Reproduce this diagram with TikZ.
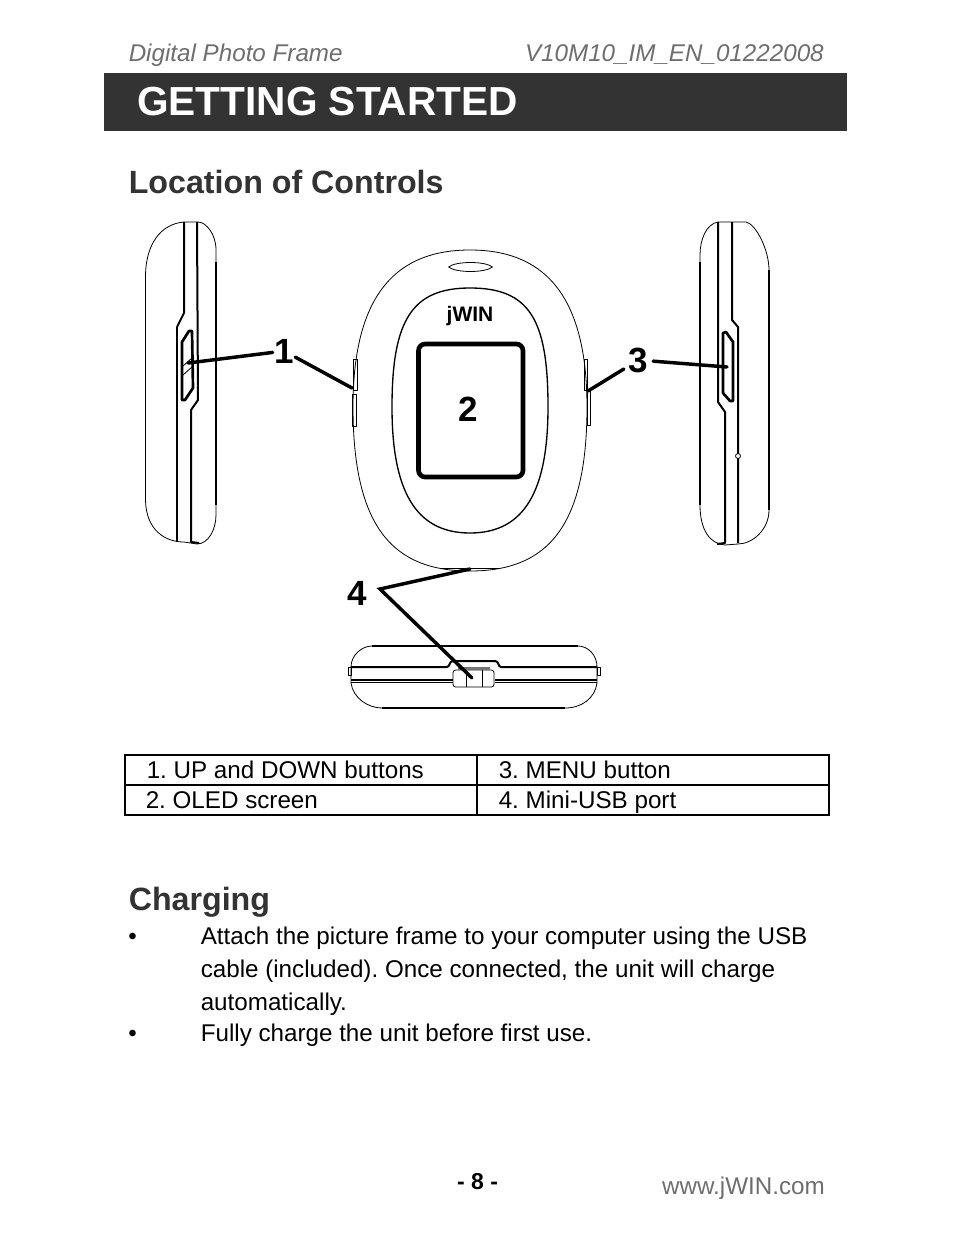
\documentclass[tikz,border=0pt]{standalone}
\usepackage{fontspec}
\setmainfont{Liberation Sans}
\newcommand{\fpx}[1]{\fontsize{\dimexpr #1pt*3/4\relax}{\dimexpr #1pt*9/10\relax}\selectfont\frenchspacing}
\definecolor{hdr}{HTML}{333333}
\definecolor{gry}{HTML}{6E6E6E}
\tikzset{
  txt/.style={anchor=base west,inner sep=0pt,font=\fpx{24.2},text=black},
  head/.style={anchor=base west,inner sep=0pt,font=\fpx{32.2}\bfseries,text=hdr},
  gtxt/.style={inner sep=0pt,font=\fpx{24.2},text=gry},
  num/.style={inner sep=1pt,font=\fpx{35}\bfseries},
  thin line/.style={draw=black,line width=0.6pt,line join=round},
  med line/.style={draw=black,line width=1.5pt,line join=round},
  heavy line/.style={draw=black,line width=2pt,line join=round},
  lead/.style={draw=black,line width=2.6pt,line cap=round,line join=miter},
  tab/.style={draw=black,line width=1.2pt}
}
\begin{document}
\begin{tikzpicture}[x=0.75pt,y=-0.75pt]
\useasboundingbox (0,0) rectangle (954,1235);
\fill[white] (0,0) rectangle (954,1235);
% header
\node[gtxt,anchor=base west,font=\fpx{24.2}\itshape] (hl) at (128.5,61) {Digital Photo Frame};
\node[gtxt,anchor=base east,font=\fpx{24.2}\itshape] (hr) at (824,61) {V10M10\_IM\_EN\_01222008};
\fill[hdr] (104,73) rectangle (847,131);
\node[anchor=base west,inner sep=0pt,text=white,font=\fpx{40.6}\bfseries] (title) at (137,115.5) {GETTING STARTED};
\node[head] (loc) at (128.5,193) {Location of Controls};
% left side view
\draw[thin line] (184,222) -- (198,222) .. controls (206,222) and (216,234) .. (216,250) -- (216,515) .. controls (216,530) and (208,544) .. (197,544) -- (184,542) .. controls (165,542) and (146,530) .. (145.5,500) -- (145.5,275) .. controls (146,245) and (160,224) .. (184,222);
\draw[med line] (216,262) -- (216,505);
\draw[med line] (184,222) -- (184,313) -- (177,327);
\draw[heavy line] (177,327) -- (177,542);
\draw[med line] (197,222) -- (198,400) -- (191,410) -- (191,542) -- (199,543);
\draw[heavy line] (182,342) -- (189,331) -- (192,331) -- (193,388) -- (185,400) -- (182,400) -- cycle;
\draw[thin line] (183,366) -- (192,358) (183,375) -- (192,367);
% right side view
\draw[thin line] (718,222) -- (732,222) -- (746,222) .. controls (756,224) and (769,250) .. (769,270) -- (769,510) .. controls (769,530) and (752,544) .. (738,544) -- (725,545) .. controls (710,544) and (700,530) .. (700,505) -- (700,255) .. controls (700,240) and (706,224) .. (718,222);
\draw[med line] (700,262) -- (700,505);
\draw[med line] (769,270) -- (769,510);
\draw[med line] (718,222) -- (718,402) -- (725,412) -- (725,543) -- (717,544);
\draw[med line] (732,222) -- (732,320) -- (738,327) -- (738,543);
\draw[heavy line] (723,333) -- (726,332) -- (733,342) -- (733,401) -- (730,401) -- (723,393) -- cycle;
\draw[thin line,fill=white] (738,456) circle[radius=2.5];
% front view
\draw[thin line] (470,250) .. controls (540,250) and (587,290) .. (587,407) .. controls (587,530) and (545,571) .. (470,571) .. controls (395,571) and (353,530) .. (353,407) .. controls (353,290) and (400,250) .. (470,250) -- cycle;
\draw[thin line] (353.5,359) rectangle (357.5,390);
\draw[thin line] (352,394) rectangle (356,426);
\draw[thin line] (584,359) rectangle (587,390);
\draw[thin line] (587,390) rectangle (590,425);
\draw[thin line] (440,568) -- (500,568);
\draw[draw=black,line width=1pt] (470,288) .. controls (530,288) and (548,320) .. (548,407) .. controls (548,490) and (525,533) .. (470,533) .. controls (415,533) and (392,490) .. (392,407) .. controls (392,320) and (412,288) .. (470,288) -- cycle;
\draw[thin line] (448.5,267) .. controls (456,261) and (485,261) .. (492.5,267) .. controls (485,273) and (456,273) .. (448.5,267) -- cycle;
\node[inner sep=0pt,font=\fpx{21}\bfseries] (jwin) at (470,316.5) {jWIN};
\draw[line width=3.5pt,rounded corners=5pt] (418.5,344) rectangle (523,477);
\node[num] (n2) at (468.5,409) {2};
% bottom view
\draw[thin line] (351,667) .. controls (351,655) and (362,646) .. (372,646) -- (578,646) .. controls (588,646) and (597,655) .. (597,667);
\draw[med line] (372,646) -- (578,646);
\draw[thin line] (351,667) -- (351,683) .. controls (353,698) and (368,708) .. (382,708) -- (565,708) .. controls (582,708) and (595,698) .. (597,683) -- (597,667);
\draw[med line] (382,708) -- (565,708);
\draw[thin line] (348,667) rectangle (351,675);
\draw[thin line] (597,667) rectangle (600,675);
\draw[med line] (351,667) -- (447,667) .. controls (450,667) and (449,661) .. (453,661) -- (495,661) .. controls (499,661) and (498,667) .. (501,667) -- (597,667);
\draw[med line] (351,680) -- (453,680);
\draw[med line] (495,680) -- (597,680);
\draw[thin line] (351,682) -- (453,682) (495,682) -- (597,682);
\draw[thin line,fill=white,rounded corners=2pt] (453,670) rectangle (494,687);
\draw[thin line] (466,670) -- (466,687) (482,670) -- (482,687);
\fill[black!55] (458,667) rectangle (490,670);
% numbers and leaders
\node[num] (n1) at (284,351) {1};
\coordinate (t1a) at (188,363);
\coordinate (t1b) at (352,388);
\draw[lead] (n1) -- (t1a);
\draw[lead] (n1) -- (t1b);
\node[num,inner sep=3.5pt] (n3) at (638.5,360) {3};
\coordinate (t3a) at (588,391);
\coordinate (t3b) at (727,367);
\draw[lead] (n3) -- (t3a);
\draw[lead] (n3) -- (t3b);
\node[num] (n4) at (357.5,593) {4};
\coordinate (t4a) at (470,569);
\coordinate (t4v) at (380,589);
\coordinate (t4b) at (472,678);
\draw[lead] (t4a) -- (t4v) -- (t4b);
% table
\draw[tab] (125,755) rectangle (829,815);
\draw[tab] (125,785) -- (829,785);
\draw[tab] (477,755) -- (477,815);
\node[txt] (c1) at (146.5,778) {1. UP and DOWN buttons};
\node[txt] (c2) at (498.5,778) {3. MENU button};
\node[txt] (c3) at (145.5,808.5) {2. OLED screen};
\node[txt] (c4) at (498.5,808.5) {4. Mini-USB port};
% charging
\node[head] (chg) at (128.5,910.5) {Charging};
\node[txt] (b1) at (128,944) {•};
\node[txt] (l1) at (200.5,944) {Attach the picture frame to your computer using the USB};
\node[txt] (l2) at (200.5,977) {cable (included). Once connected, the unit will charge};
\node[txt] (l3) at (200.5,1010) {automatically.};
\node[txt] (b2) at (128,1041.5) {•};
\node[txt] (l4) at (200.5,1041.5) {Fully charge the unit before first use.};
% footer
\node[anchor=base,inner sep=0pt,font=\fpx{23}\bfseries] (pg) at (477.5,1189) {- 8 -};
\node[gtxt,anchor=base east] (web) at (825,1194.5) {www.jWIN.com};
\end{tikzpicture}
\end{document}
